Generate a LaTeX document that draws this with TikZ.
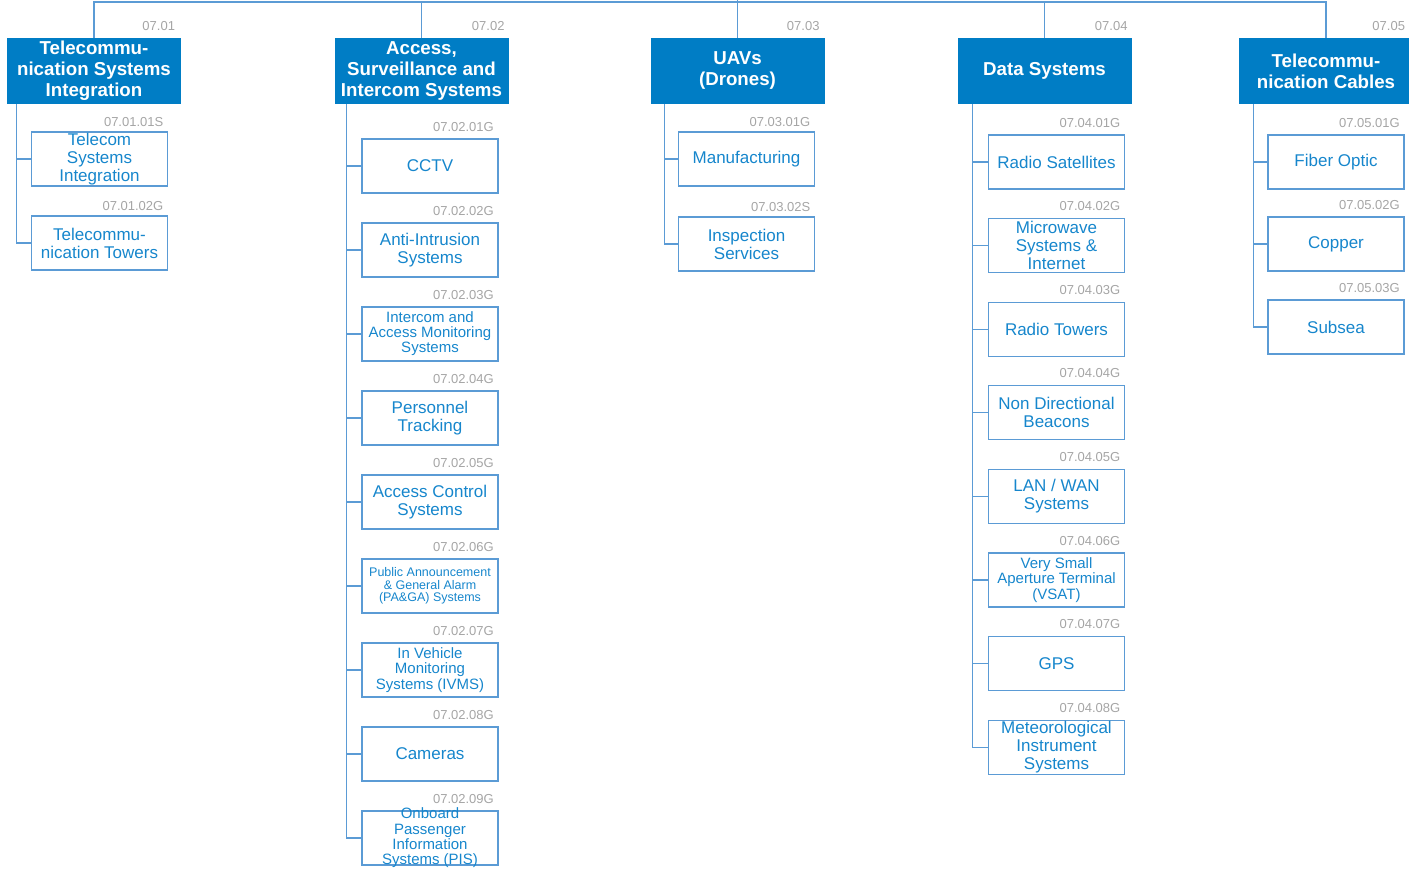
\documentclass[tikz,border=0pt]{standalone}
\usepackage{fontspec}
\setmainfont{Liberation Sans}
\usetikzlibrary{positioning}

\definecolor{headblue}{RGB}{0,125,197}
\definecolor{linkblue}{RGB}{91,155,213}
\definecolor{leafblue}{RGB}{22,134,204}
\definecolor{codegray}{RGB}{165,165,165}

\newcommand{\leaffont}{\fontsize{17}{18}\selectfont}

\begin{document}
\begin{tikzpicture}[x=1pt, y=-1pt,
    head/.style={fill=headblue, text=white, minimum width=174pt, minimum height=66pt,
                 inner sep=0pt, align=center, font=\fontsize{18.7}{21}\selectfont\bfseries},
    leaf/.style={draw=linkblue, line width=1.2pt, minimum width=136pt, minimum height=54pt,
                 inner sep=0pt, outer sep=0pt, align=center, text=leafblue, font=\leaffont},
    code/.style={anchor=base east, text=codegray, inner sep=0pt, font=\fontsize{13}{13}\selectfont},
    link/.style={draw=linkblue, line width=1.2pt}]
  \useasboundingbox (0,0) rectangle (1409,870);

  % top level
  \node[head] (h1) at (94,71)     {Telecommu-\\nication Systems\\Integration};
  \node[head] (h2) at (421.5,71)  {Access,\\Surveillance and\\Intercom Systems};
  \node[head] (h3) at (737.5,71)  {UAVs\\(Drones)};
  \node[head] (h4) at (1044.5,71) {Data Systems};
  \node[head] (h5) at (1326,71)   {Telecommu-\\nication Cables};
  \node[code] (k1) at ([xshift=-6pt,yshift=7pt]h1.north east) {07.01};
  \node[code] (k2) at ([xshift=-4pt,yshift=7pt]h2.north east) {07.02};
  \node[code] (k3) at ([xshift=-5pt,yshift=7pt]h3.north east) {07.03};
  \node[code] (k4) at ([xshift=-4pt,yshift=7pt]h4.north east) {07.04};
  \node[code] (k5) at ([xshift=-8pt,yshift=7pt]h5.north east) {07.05};

  \coordinate (bus) at (737.5,2);
  \draw[link] (h1.north) |- (bus) -| (h5.north);
  \draw[link] (h2.north) |- (bus);
  \draw[link] (h4.north) |- (bus);
  \draw[link] (h3.north) -- (bus) -- ++(0,-4);

  % 07.01
  \node[leaf] (tsi) at (99.5,159) {Telecom\\Systems\\Integration};
  \node[leaf, below=30pt of tsi] (tow) {Telecommu-\\nication Towers};
  \node[code] (k-tsi) at ([xshift=-4pt,yshift=6pt]tsi.north east) {07.01.01S};
  \node[code] (k-tow) at ([xshift=-4pt,yshift=6pt]tow.north east) {07.01.02G};
  \coordinate (s1) at ([xshift=10pt]h1.south west);
  \draw[link] (s1) |- (tsi.west);
  \draw[link] (s1) |- (tow.west);

  % 07.02
  \node[leaf] (cctv) at (430,166) {CCTV};
  \node[leaf, below=30pt of cctv] (intr) {Anti-Intrusion\\Systems};
  \node[leaf, below=30pt of intr, font=\fontsize{15}{15}\selectfont] (icam) {Intercom and\\Access Monitoring\\Systems};
  \node[leaf, below=30pt of icam] (pers) {Personnel\\Tracking};
  \node[leaf, below=30pt of pers] (acs) {Access Control\\Systems};
  \node[leaf, below=30pt of acs, font=\fontsize{12.5}{12.5}\selectfont] (paga) {Public Announcement\\\& General Alarm\\(PA\&GA) Systems};
  \node[leaf, below=30pt of paga, font=\fontsize{15}{15.5}\selectfont] (ivms) {In Vehicle\\Monitoring\\Systems (IVMS)};
  \node[leaf, below=30pt of ivms] (cam) {Cameras};
  \node[leaf, below=30pt of cam] (pis) {};
  \node[text=leafblue, align=center, inner sep=0pt, font=\fontsize{15}{15.3}\selectfont] (pis-t) at (pis)
    {Onboard\\Passenger\\Information\\Systems (PIS)};
  \node[code] (k-cctv) at ([xshift=-4pt,yshift=8pt]cctv.north east) {07.02.01G};
  \node[code] (k-intr) at ([xshift=-4pt,yshift=8pt]intr.north east) {07.02.02G};
  \node[code] (k-icam) at ([xshift=-4pt,yshift=8pt]icam.north east) {07.02.03G};
  \node[code] (k-pers) at ([xshift=-4pt,yshift=8pt]pers.north east) {07.02.04G};
  \node[code] (k-acs)  at ([xshift=-4pt,yshift=8pt]acs.north east)  {07.02.05G};
  \node[code] (k-paga) at ([xshift=-4pt,yshift=8pt]paga.north east) {07.02.06G};
  \node[code] (k-ivms) at ([xshift=-4pt,yshift=8pt]ivms.north east) {07.02.07G};
  \node[code] (k-cam)  at ([xshift=-4pt,yshift=8pt]cam.north east)  {07.02.08G};
  \node[code] (k-pis)  at ([xshift=-4pt,yshift=8pt]pis.north east)  {07.02.09G};
  \coordinate (s2) at ([xshift=12pt]h2.south west);
  \foreach \n in {cctv,intr,icam,pers,acs,paga,ivms,cam,pis}
    \draw[link] (s2) |- (\n.west);

  % 07.03
  \node[leaf] (manu) at (746.5,159) {Manufacturing};
  \node[leaf, below=31pt of manu] (insp) {Inspection\\Services};
  \node[code] (k-manu) at ([xshift=-4pt,yshift=6pt]manu.north east) {07.03.01G};
  \node[code] (k-insp) at ([xshift=-4pt,yshift=6pt]insp.north east) {07.03.02S};
  \coordinate (s3) at ([xshift=14pt]h3.south west);
  \draw[link] (s3) |- (manu.west);
  \draw[link] (s3) |- (insp.west);

  % 07.04
  \node[leaf] (rsat) at (1056.5,162) {Radio Satellites};
  \node[leaf, below=29.6pt of rsat] (mwave) {Microwave\\Systems \&\\Internet};
  \node[leaf, below=29.6pt of mwave] (rtow) {Radio Towers};
  \node[leaf, below=29.6pt of rtow] (ndb) {Non Directional\\Beacons};
  \node[leaf, below=29.6pt of ndb] (lan) {LAN / WAN\\Systems};
  \node[leaf, below=29.6pt of lan, font=\fontsize{15}{15.5}\selectfont] (vsat) {Very Small\\Aperture Terminal\\(VSAT)};
  \node[leaf, below=29.6pt of vsat] (gps) {GPS};
  \node[leaf, below=29.6pt of gps] (met) {Meteorological\\Instrument\\Systems};
  \node[code] (k-rsat)  at ([xshift=-4pt,yshift=8pt]rsat.north east)  {07.04.01G};
  \node[code] (k-mwave) at ([xshift=-4pt,yshift=8pt]mwave.north east) {07.04.02G};
  \node[code] (k-rtow)  at ([xshift=-4pt,yshift=8pt]rtow.north east)  {07.04.03G};
  \node[code] (k-ndb)   at ([xshift=-4pt,yshift=8pt]ndb.north east)   {07.04.04G};
  \node[code] (k-lan)   at ([xshift=-4pt,yshift=8pt]lan.north east)   {07.04.05G};
  \node[code] (k-vsat)  at ([xshift=-4pt,yshift=8pt]vsat.north east)  {07.04.06G};
  \node[code] (k-gps)   at ([xshift=-4pt,yshift=8pt]gps.north east)   {07.04.07G};
  \node[code] (k-met)   at ([xshift=-4pt,yshift=8pt]met.north east)   {07.04.08G};
  \coordinate (s4) at ([xshift=15pt]h4.south west);
  \foreach \n in {rsat,mwave,rtow,ndb,lan,vsat,gps,met}
    \draw[link] (s4) |- (\n.west);

  % 07.05
  \node[leaf] (fiber) at (1336,162) {Fiber Optic};
  \node[leaf, below=28pt of fiber] (copper) {Copper};
  \node[leaf, below=29pt of copper] (subsea) {Subsea};
  \node[code] (k-fiber)  at ([xshift=-4pt,yshift=8pt]fiber.north east)  {07.05.01G};
  \node[code] (k-copper) at ([xshift=-4pt,yshift=8pt]copper.north east) {07.05.02G};
  \node[code] (k-subsea) at ([xshift=-4pt,yshift=8pt]subsea.north east) {07.05.03G};
  \coordinate (s5) at ([xshift=15pt]h5.south west);
  \foreach \n in {fiber,copper,subsea}
    \draw[link] (s5) |- (\n.west);
\end{tikzpicture}
\end{document}
